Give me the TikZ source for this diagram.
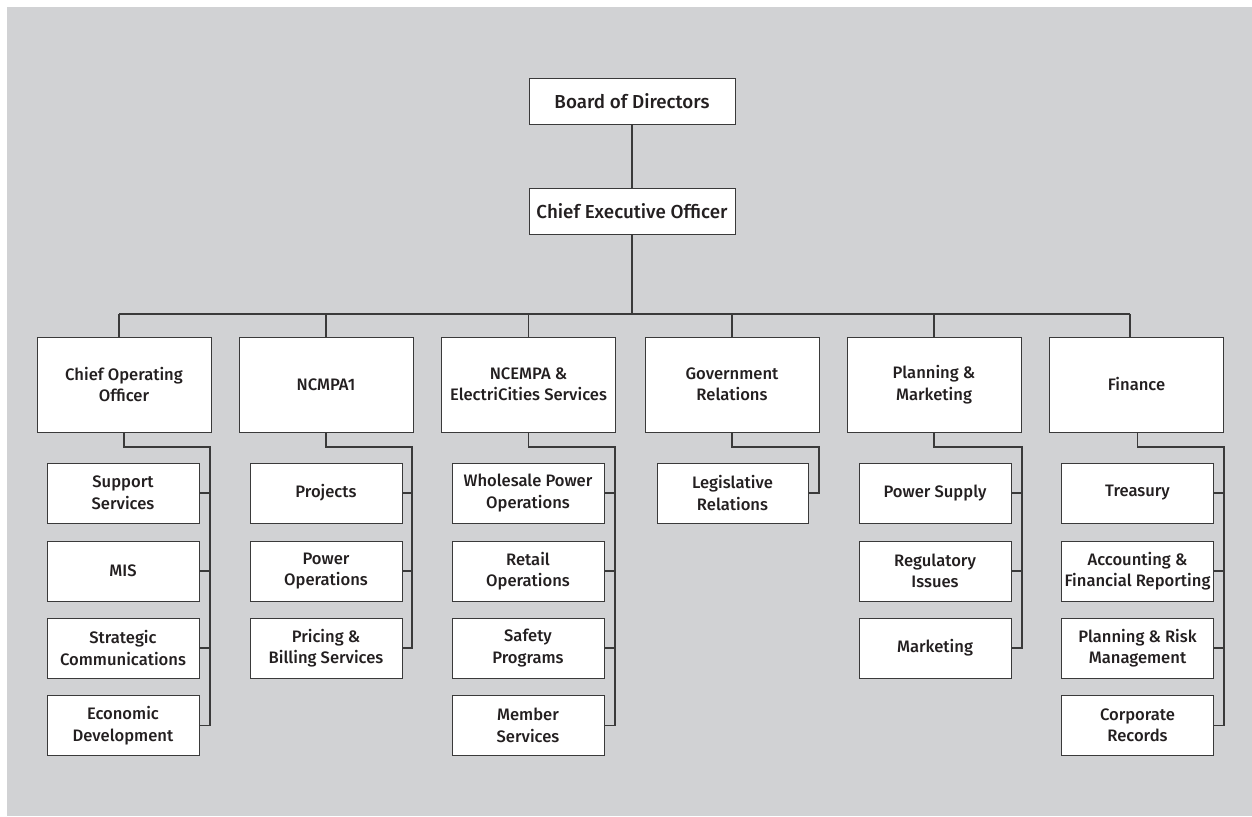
\documentclass[tikz,border=0pt]{standalone}
\usepackage{fontspec}
\setmainfont{Fira Sans Medium}
\definecolor{bgcol}{HTML}{D1D2D4}
\definecolor{linecol}{HTML}{3A3A3A}
\definecolor{txtcol}{HTML}{231F20}
\tikzset{
  orgbox/.style={draw=linecol, line width=1pt, fill=white, align=center, inner sep=0pt,
    text=txtcol, font=\fontsize{16.6}{21.5}\selectfont},
  topbox/.style={orgbox, minimum width=206pt, minimum height=46pt, font=\fontsize{18.8}{22}\selectfont},
  headbox/.style={orgbox, minimum width=174pt, minimum height=95pt},
  subbox/.style={orgbox, minimum width=152pt, minimum height=60pt},
  conn/.style={draw=linecol, line width=1.1pt}
}
\begin{document}
\begin{tikzpicture}[x=1pt,y=-1pt]
\useasboundingbox (0,0) rectangle (1252,816);
\fill[bgcol] (7,7) rectangle (1252,816);

% top
\node[topbox] (bod) at (632,101) {Board of Directors};
\node[topbox] (ceo) at (632,211) {Chief Executive Officer};

% heads
\node[headbox] (coo) at (124,384.5) {Chief Operating\\Officer};
\node[headbox] (nc1) at (326,384.5) {NCMPA1};
\node[headbox] (nce) at (528.5,384.5) {NCEMPA \&\\ElectriCities Services};
\node[headbox] (gov) at (732,384.5) {Government\\Relations};
\node[headbox] (pm)  at (934,384.5) {Planning \&\\Marketing};
\node[headbox] (fin) at (1136.5,384.5) {Finance};

% children COO
\node[subbox] (coo1) at (123,493) {Support\\Services};
\node[subbox] (coo2) at (123,571) {MIS};
\node[subbox] (coo3) at (123,648) {Strategic\\Communications};
\node[subbox] (coo4) at (123,725.5) {Economic\\Development};
% NCMPA1
\node[subbox] (nc11) at (326,493) {Projects};
\node[subbox] (nc12) at (326,571) {Power\\Operations};
\node[subbox] (nc13) at (326,648) {Pricing \&\\Billing Services};
% NCEMPA
\node[subbox] (nce1) at (528,493) {Wholesale Power\\Operations};
\node[subbox] (nce2) at (528,571) {Retail\\Operations};
\node[subbox] (nce3) at (528,648) {Safety\\Programs};
\node[subbox] (nce4) at (528,725.5) {Member\\Services};
% Gov
\node[subbox, minimum width=151pt] (gov1) at (732.5,493) {Legislative\\Relations};
% Planning
\node[subbox] (pm1) at (935,493) {Power Supply};
\node[subbox] (pm2) at (935,571) {Regulatory\\Issues};
\node[subbox] (pm3) at (935,648) {Marketing};
% Finance
\node[subbox] (fin1) at (1137.5,493) {Treasury};
\node[subbox] (fin2) at (1137.5,571) {Accounting \&\\Financial Reporting};
\node[subbox] (fin3) at (1137.5,648) {Planning \& Risk\\Management};
\node[subbox] (fin4) at (1137.5,725.5) {Corporate\\Records};

% top connectors
\coordinate (busL) at (119,314);
\coordinate (busR) at (1130,314);
\draw[conn] (bod.south) -- (ceo.north);
\draw[conn] (ceo.south) -- (ceo.south |- busL);
\draw[conn] (busL) -- (busR);
\draw[conn] (busL) -- (busL |- coo.north);
\draw[conn] (nc1.north) -- (nc1.north |- busL);
\draw[conn] (nce.north) -- (nce.north |- busL);
\draw[conn] (gov.north) -- (gov.north |- busL);
\draw[conn] (pm.north) -- (pm.north |- busL);
\draw[conn] (busR) -- (busR |- fin.north);

% sub connectors
\coordinate (cooB) at (210,447);
\draw[conn] (coo.south) |- (cooB) |- (coo4.east);
\foreach \c in {coo1,coo2,coo3} \draw[conn] (\c.east) -- (\c.east -| cooB);

\coordinate (nc1B) at (412,447);
\draw[conn] (nc1.south) |- (nc1B) |- (nc13.east);
\foreach \c in {nc11,nc12} \draw[conn] (\c.east) -- (\c.east -| nc1B);

\coordinate (nceB) at (615,447);
\draw[conn] (nce.south) |- (nceB) |- (nce4.east);
\foreach \c in {nce1,nce2,nce3} \draw[conn] (\c.east) -- (\c.east -| nceB);

\coordinate (govB) at (819,447);
\draw[conn] (gov.south) |- (govB) |- (gov1.east);

\coordinate (pmB) at (1022,447);
\draw[conn] (pm.south) |- (pmB) |- (pm3.east);
\foreach \c in {pm1,pm2} \draw[conn] (\c.east) -- (\c.east -| pmB);

\coordinate (finB) at (1224,447);
\draw[conn] ([xshift=1pt]fin.south) |- (finB) |- (fin4.east);
\foreach \c in {fin1,fin2,fin3} \draw[conn] (\c.east) -- (\c.east -| finB);
\end{tikzpicture}
\end{document}
